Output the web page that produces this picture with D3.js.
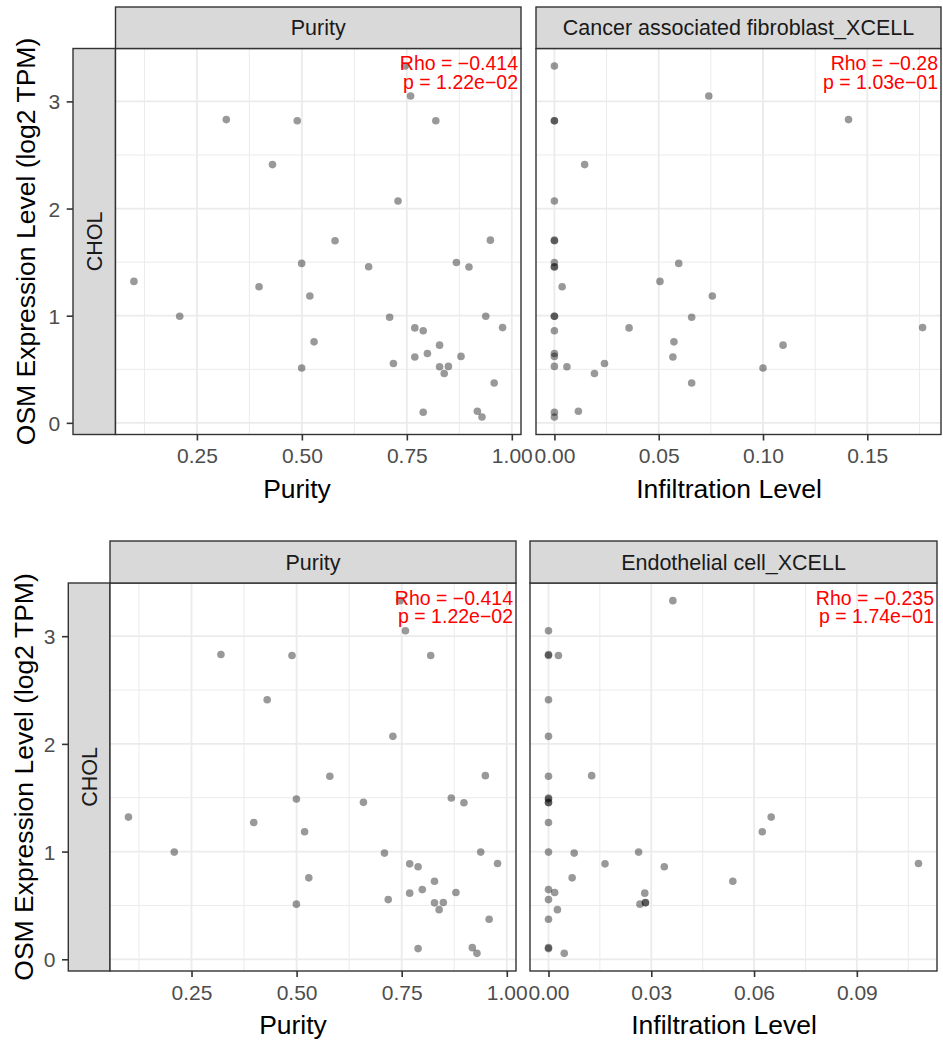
<!DOCTYPE html>
<html><head><meta charset="utf-8">
<script src="https://cdn.jsdelivr.net/npm/d3@7"></script>
<style>
body{margin:0;background:#fff}
svg{display:block}
text{font-family:"Liberation Sans",Arial,Helvetica,sans-serif}
</style>
</head><body>
<svg id="chart" width="943" height="1040"></svg>
<script>
// ---------- data (one entry per CHOL sample) ----------
const expression = [3.33, 3.05, 2.83, 2.82, 2.82, 2.41, 2.07, 1.70, 1.705, 1.497, 1.488, 1.457,
  1.454, 1.32, 1.27, 1.184, 0.995, 0.995, 0.986, 0.889, 0.886, 0.859, 0.756, 0.725,
  0.647, 0.620, 0.614, 0.554, 0.527, 0.524, 0.512, 0.461, 0.372, 0.108, 0.099, 0.055];
const purity = [0.746, 0.759, 0.320, 0.489, 0.819, 0.430, 0.729, 0.579, 0.949, 0.868, 0.4995, 0.659,
  0.898, 0.100, 0.398, 0.519, 0.209, 0.938, 0.709, 0.978, 0.769, 0.789, 0.529, 0.828,
  0.799, 0.879, 0.769, 0.718, 0.849, 0.828, 0.4995, 0.839, 0.958, 0.918, 0.789, 0.929];
const cafInfiltration = [0, 0.074, 0.141, 0, 0, 0.0145, 0, 0, 0, 0, 0.0596, 0,
  0, 0.0506, 0.0037, 0.0757, 0, 0, 0.0658, 0.1765, 0.0358, 0, 0.0573, 0.1096,
  0, 0, 0.0568, 0.024, 0, 0.006, 0.100, 0.0192, 0.0658, 0.0115, 0, 0];
const endoInfiltration = [0.0363, 0, 0, 0, 0.0029, 0, 0, 0, 0.0126, 0, 0, 0,
  0, 0.065, 0, 0.0624, 0, 0.0263, 0.0075, 0.108, 0.0165, 0.0338, 0.0069, 0.0538,
  0, 0.0018, 0.0281, 0, 0.0283, 0.0283, 0.0267, 0.0026, 0, 0, 0, 0.0046];

const purityTicks = [0.25, 0.50, 0.75, 1.00];
const cafTicks = [0.00, 0.05, 0.10, 0.15];
const endoTicks = [0.00, 0.03, 0.06, 0.09];
const yTicks = [0, 1, 2, 3];

const cancerType = "CHOL";
const yTitle = "OSM Expression Level (log2 TPM)";
const purityStrip = "Purity";
const cafStrip = "Cancer associated fibroblast_XCELL";
const endoStrip = "Endothelial cell_XCELL";
const purityTitle = "Purity";
const infilTitle = "Infiltration Level";
const purityStats = ["Rho = \u22120.414", "p = 1.22e\u221202"];
const cafStats = ["Rho = \u22120.28", "p = 1.03e\u221201"];
const endoStats = ["Rho = \u22120.235", "p = 1.74e\u221201"];

// ---------- helpers ----------
const svg = d3.select("#chart");
const FONT_TICK = 21, FONT_TITLE = 26.5, FONT_STRIP = 21.5, FONT_STAT = 19.5;

function expanded(vals) {
  const [a, b] = d3.extent(vals);
  const p = (b - a) * 0.05;
  return [a - p, b + p];
}
function minorOf(ticks, dom) {
  const step = ticks[1] - ticks[0];
  const out = [];
  for (let i = -1; i < ticks.length; i++) out.push(ticks[0] + step * (i + 0.5));
  return out.filter(v => v > dom[0] && v < dom[1]);
}

const yDomain = expanded(expression);

function drawPanel(o) {
  const g = svg.append("g");
  const xDom = expanded(o.xVals);
  const x = d3.scaleLinear().domain(xDom).range([o.x0, o.x1]);
  const y = d3.scaleLinear().domain(yDomain).range([o.y1, o.y0]);

  g.append("rect").attr("x", o.x0).attr("y", o.y0).attr("width", o.x1 - o.x0).attr("height", o.y1 - o.y0).attr("fill", "#fff");

  // minor grid
  g.selectAll(null).data(minorOf(o.xTicks, xDom)).join("line")
    .attr("x1", d => x(d)).attr("x2", d => x(d)).attr("y1", o.y0).attr("y2", o.y1)
    .attr("stroke", "#ebebeb").attr("stroke-width", 1.0);
  g.selectAll(null).data(minorOf(yTicks, yDomain)).join("line")
    .attr("x1", o.x0).attr("x2", o.x1).attr("y1", d => y(d)).attr("y2", d => y(d))
    .attr("stroke", "#ebebeb").attr("stroke-width", 1.0);
  // major grid
  g.selectAll(null).data(o.xTicks).join("line")
    .attr("x1", d => x(d)).attr("x2", d => x(d)).attr("y1", o.y0).attr("y2", o.y1)
    .attr("stroke", "#ebebeb").attr("stroke-width", 1.8);
  g.selectAll(null).data(yTicks).join("line")
    .attr("x1", o.x0).attr("x2", o.x1).attr("y1", d => y(d)).attr("y2", d => y(d))
    .attr("stroke", "#ebebeb").attr("stroke-width", 1.8);

  // points
  g.selectAll(null).data(o.xVals.map((v, i) => [v, expression[i]])).join("circle")
    .attr("cx", d => x(d[0])).attr("cy", d => y(d[1])).attr("r", 3.8)
    .attr("fill", "#000").attr("fill-opacity", 0.4);

  // stats text
  const st = g.append("text").attr("text-anchor", "end").attr("fill", "#ff0000").attr("font-size", FONT_STAT);
  o.stats.forEach((s, i) => st.append("tspan").attr("x", o.x1 - 3).attr("y", o.y0 + 21.5 + i * 18.5).text(s));

  // border
  g.append("rect").attr("x", o.x0).attr("y", o.y0).attr("width", o.x1 - o.x0).attr("height", o.y1 - o.y0)
    .attr("fill", "none").attr("stroke", "#333").attr("stroke-width", 1.4);

  // strip on top
  g.append("rect").attr("x", o.x0).attr("y", o.stripTop).attr("width", o.x1 - o.x0).attr("height", o.y0 - o.stripTop)
    .attr("fill", "#d9d9d9").attr("stroke", "#333").attr("stroke-width", 1.4);
  g.append("text").attr("x", (o.x0 + o.x1) / 2).attr("y", (o.stripTop + o.y0) / 2 + 7.6)
    .attr("text-anchor", "middle").attr("fill", "#1a1a1a").attr("font-size", FONT_STRIP).text(o.strip);

  // x axis
  const ax = g.append("g").attr("transform", `translate(0,${o.y1})`)
    .call(d3.axisBottom(x).tickValues(o.xTicks).tickFormat(d3.format(".2f")).tickSize(6).tickSizeOuter(0));
  ax.select(".domain").remove();
  ax.selectAll(".tick line").attr("stroke", "#333").attr("stroke-width", 1.6);
  ax.selectAll(".tick text").attr("dy", null).attr("y", 28.5).attr("fill", "#4d4d4d")
    .attr("font-size", FONT_TICK).attr("font-family", null);

  // x title
  g.append("text").attr("x", o.titleX).attr("y", o.y1 + 63).attr("text-anchor", "middle")
    .attr("font-size", FONT_TITLE).attr("fill", "#000").text(o.title);
  return y;
}

function drawRowLabel(o) {
  const g = svg.append("g");
  const y = d3.scaleLinear().domain(yDomain).range([o.y1, o.y0]);
  g.append("rect").attr("x", o.sx0).attr("y", o.y0).attr("width", o.sx1 - o.sx0).attr("height", o.y1 - o.y0)
    .attr("fill", "#d9d9d9").attr("stroke", "#333").attr("stroke-width", 1.4);
  g.append("text").attr("transform", `translate(${(o.sx0 + o.sx1) / 2 + 7.6},${(o.y0 + o.y1) / 2}) rotate(-90)`)
    .attr("text-anchor", "middle").attr("fill", "#1a1a1a").attr("font-size", FONT_STRIP).text(cancerType);
  const ay = g.append("g").attr("transform", `translate(${o.sx0},0)`)
    .call(d3.axisLeft(y).tickValues(yTicks).tickFormat(d3.format("d")).tickSize(6.3).tickPadding(6.5).tickSizeOuter(0));
  ay.select(".domain").remove();
  ay.selectAll(".tick line").attr("stroke", "#333").attr("stroke-width", 1.6);
  ay.selectAll(".tick text").attr("fill", "#4d4d4d").attr("font-size", FONT_TICK).attr("font-family", null).attr("dy", "0.36em");
  g.append("text").attr("transform", `translate(${o.titleX},${(o.y0 + o.y1) / 2}) rotate(-90)`)
    .attr("text-anchor", "middle").attr("font-size", FONT_TITLE).attr("fill", "#000").text(yTitle);
}

// ---------- top figure ----------
drawRowLabel({sx0: 73, sx1: 115.5, y0: 48.5, y1: 434.5, titleX: 35});
drawPanel({x0: 115.5, x1: 521, y0: 48.5, y1: 434.5, stripTop: 7, xVals: purity, xTicks: purityTicks,
  strip: purityStrip, stats: purityStats, title: purityTitle, titleX: 297});
drawPanel({x0: 536, x1: 941, y0: 48.5, y1: 434.5, stripTop: 7, xVals: cafInfiltration, xTicks: cafTicks,
  strip: cafStrip, stats: cafStats, title: infilTitle, titleX: 729});

// ---------- bottom figure ----------
drawRowLabel({sx0: 68.3, sx1: 110, y0: 583, y1: 971, titleX: 33});
drawPanel({x0: 110, x1: 516, y0: 583, y1: 971, stripTop: 541, xVals: purity, xTicks: purityTicks,
  strip: purityStrip, stats: purityStats, title: purityTitle, titleX: 293});
drawPanel({x0: 530, x1: 937, y0: 583, y1: 971, stripTop: 541, xVals: endoInfiltration, xTicks: endoTicks,
  strip: endoStrip, stats: endoStats, title: infilTitle, titleX: 724});
</script>
</body></html>
